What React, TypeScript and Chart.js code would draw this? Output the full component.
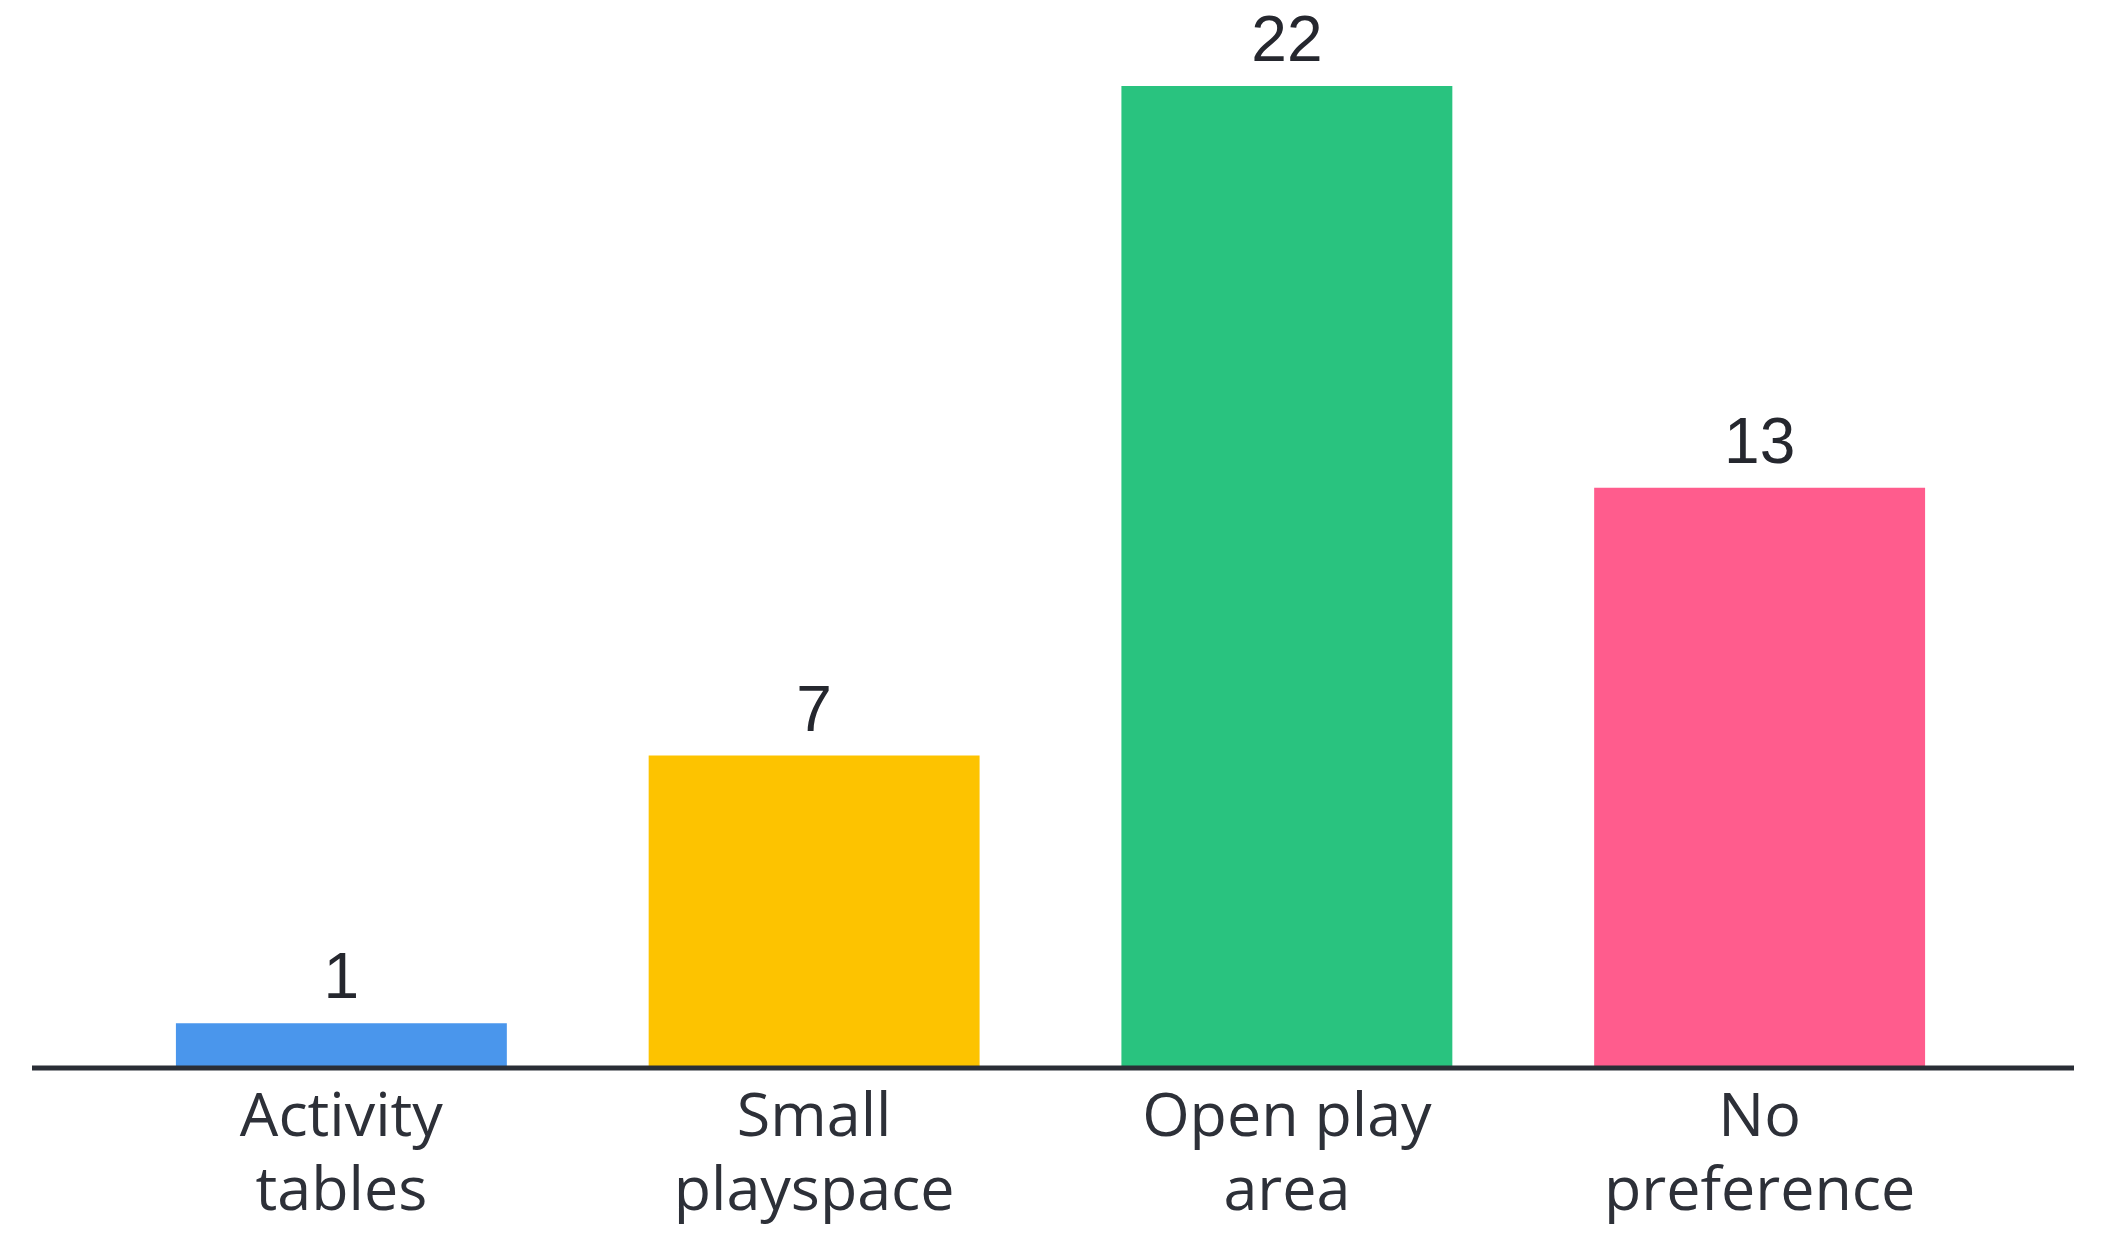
import React, { useEffect, useRef } from "react";
import { Chart, registerables } from "chart.js";

Chart.register(...registerables);

const categories: string[][] = [
  ["Activity", "tables"],
  ["Small", "playspace"],
  ["Open play", "area"],
  ["No", "preference"],
];
const values: number[] = [1, 7, 22, 13];
const barColors: string[] = ["#4A96EC", "#FDC300", "#29C37F", "#FF5C8D"];

const valueLabelPlugin = {
  id: "valueLabels",
  afterDatasetsDraw(chart: any) {
    const ctx = chart.ctx;
    const meta = chart.getDatasetMeta(0);
    const yScale = chart.scales.y;
    const zeroY = yScale.getPixelForValue(0);
    ctx.save();
    // baseline axis line
    ctx.strokeStyle = "#2a2e36";
    ctx.lineWidth = 5;
    ctx.beginPath();
    ctx.moveTo(chart.chartArea.left - 73, zeroY);
    ctx.lineTo(chart.chartArea.right + 78, zeroY);
    ctx.stroke();
    // value labels
    ctx.fillStyle = "#25272e";
    ctx.font = "64px 'Liberation Sans', Arial, sans-serif";
    ctx.textAlign = "center";
    ctx.textBaseline = "alphabetic";
    meta.data.forEach((bar: any, i: number) => {
      ctx.fillText(String(values[i]), bar.x, bar.y - 25);
    });
    ctx.restore();
  },
};

export default function App() {
  const canvasRef = useRef<HTMLCanvasElement | null>(null);

  useEffect(() => {
    if (!canvasRef.current) return;
    const chart = new Chart(canvasRef.current, {
      type: "bar",
      data: {
        labels: categories,
        datasets: [
          {
            data: values,
            backgroundColor: barColors,
            borderWidth: 0,
            barPercentage: 0.7,
            categoryPercentage: 1,
          },
        ],
      },
      options: {
        animation: false,
        responsive: false,
        devicePixelRatio: 1,
        layout: { padding: { left: 105, right: 106, top: 86, bottom: 0 } },
        plugins: {
          legend: { display: false },
          tooltip: { enabled: false },
          title: { display: false },
        },
        scales: {
          y: {
            display: false,
            min: 0,
            max: 22,
          },
          x: {
            grid: { display: false, drawTicks: false },
            border: { display: false },
            ticks: {
              color: "#2d3038",
              font: { family: "'Open Sans', Lato, sans-serif", size: 61, lineHeight: 1.21 },
              padding: 14,
            },
            afterFit(scale: any) {
              scale.height = 172;
            },
          },
        },
      },
      plugins: [valueLabelPlugin],
    });
    return () => chart.destroy();
  }, []);

  return (
    <div style={{ position: "absolute", left: 0, top: 0, width: 2102, height: 1240, background: "#ffffff" }}>
      <canvas ref={canvasRef} width={2102} height={1240} />
    </div>
  );
}
